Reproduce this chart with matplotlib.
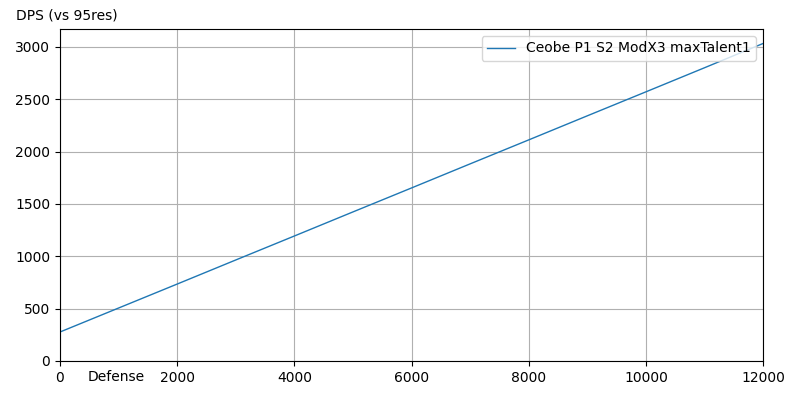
import matplotlib
matplotlib.use("Agg")
import matplotlib.pyplot as plt

defense = [0, 1000, 2000, 3000, 4000, 5000, 6000, 7000, 8000, 9000, 10000, 11000, 12000]
dps = [277, 506, 735, 965, 1194, 1424, 1653, 1883, 2112, 2342, 2571, 2801, 3033]
series_label = "Ceobe P1 S2 ModX3 maxTalent1"

fig = plt.figure(figsize=(8, 4), dpi=100)
ax = fig.add_axes([0.075, 0.0975, 0.879, 0.83])
ax.plot(defense, dps, color="#1f77b4", linewidth=1, label=series_label)
ax.set_xlim(0, 12000)
ax.set_ylim(bottom=0)
ax.grid(True)
ax.legend(loc="upper right")
ax.set_xlabel("Defense")
ax.xaxis.set_label_coords(0.08, -0.028)
ax.xaxis.label.set_va("top")
ax.set_ylabel("DPS (vs 95res)", rotation=0, ha="center", va="bottom")
ax.yaxis.set_label_coords(0.01, 1.019)
fig.savefig("out.png", dpi=100)
